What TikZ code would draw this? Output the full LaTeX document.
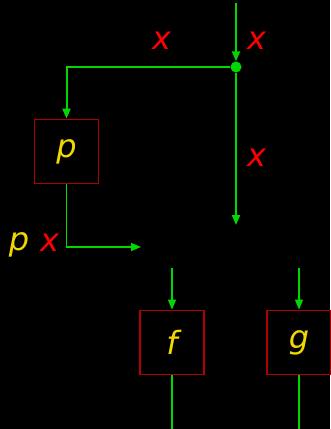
\documentclass[tikz,border=0pt]{standalone}
\usepackage{fontspec}
\setmainfont{DejaVu Sans}
\usetikzlibrary{arrows.meta, positioning}
\definecolor{wirecol}{HTML}{00D800}
\definecolor{boxcol}{HTML}{B00000}
\definecolor{varcol}{HTML}{FF0000}
\definecolor{fncol}{HTML}{F0D800}

\begin{document}
\begin{tikzpicture}[
  x=1pt, y=-1pt,
  every node/.style={font=\fontsize{32}{34}\selectfont\itshape},
  fbox/.style={rectangle, draw=boxcol, line width=1.8pt, text=fncol,
               minimum width=64pt, minimum height=64pt, inner sep=0pt},
  wire/.style={draw=wirecol, line width=2pt},
  thinwire/.style={draw=wirecol, line width=1.3pt},
  tip/.style={-{Triangle[length=10pt, width=8pt]}},
  varlbl/.style={text=varcol, anchor=base, inner sep=0pt},
  fnlbl/.style={text=fncol, anchor=base, inner sep=0pt},
  splitdot/.style={circle, fill=wirecol, minimum size=11pt, inner sep=0pt},
]
  % background and frame
  \fill[black] (0,0) rectangle (330,429);
  \useasboundingbox (0,0) rectangle (330,429);

  % boxes
  \node[fbox] (p) at (66.5,151.5) {p};
  \node[fbox] (f) at (172,342.5) {f};
  \node[fbox] (g) at (299,342.5) {g};

  % split point and loose ends
  \node[splitdot] (split) at (236,67) {};
  \coordinate (xin) at (236,3);
  \coordinate (xout) at (236,225);
  \coordinate (pxout) at (141,247);
  \coordinate (fin) at (172,268);
  \coordinate (fout) at (172,429);
  \coordinate (gin) at (299,268);
  \coordinate (gout) at (299,429);

  % wires
  \draw[wire, tip] (xin) -- (split);
  \draw[wire, tip] (split) -| (p);
  \draw[wire, tip] (split) -- (xout);
  \draw[thinwire, tip] (p) |- (pxout);
  \draw[thinwire, tip] (fin) -- (f);
  \draw[thinwire] (f) -- (fout);
  \draw[thinwire, tip] (gin) -- (g);
  \draw[thinwire] (g) -- (gout);

  % labels
  \node[varlbl] (xleft) at (161.5,49) {x};
  \node[varlbl] (xright) at (256.5,49) {x};
  \node[varlbl] (xdown) at (256.5,166) {x};
  \node[fnlbl] (plbl) at (19,250) {p};
  \node[varlbl] (pxlbl) at (49.5,251) {x};
\end{tikzpicture}
\end{document}
